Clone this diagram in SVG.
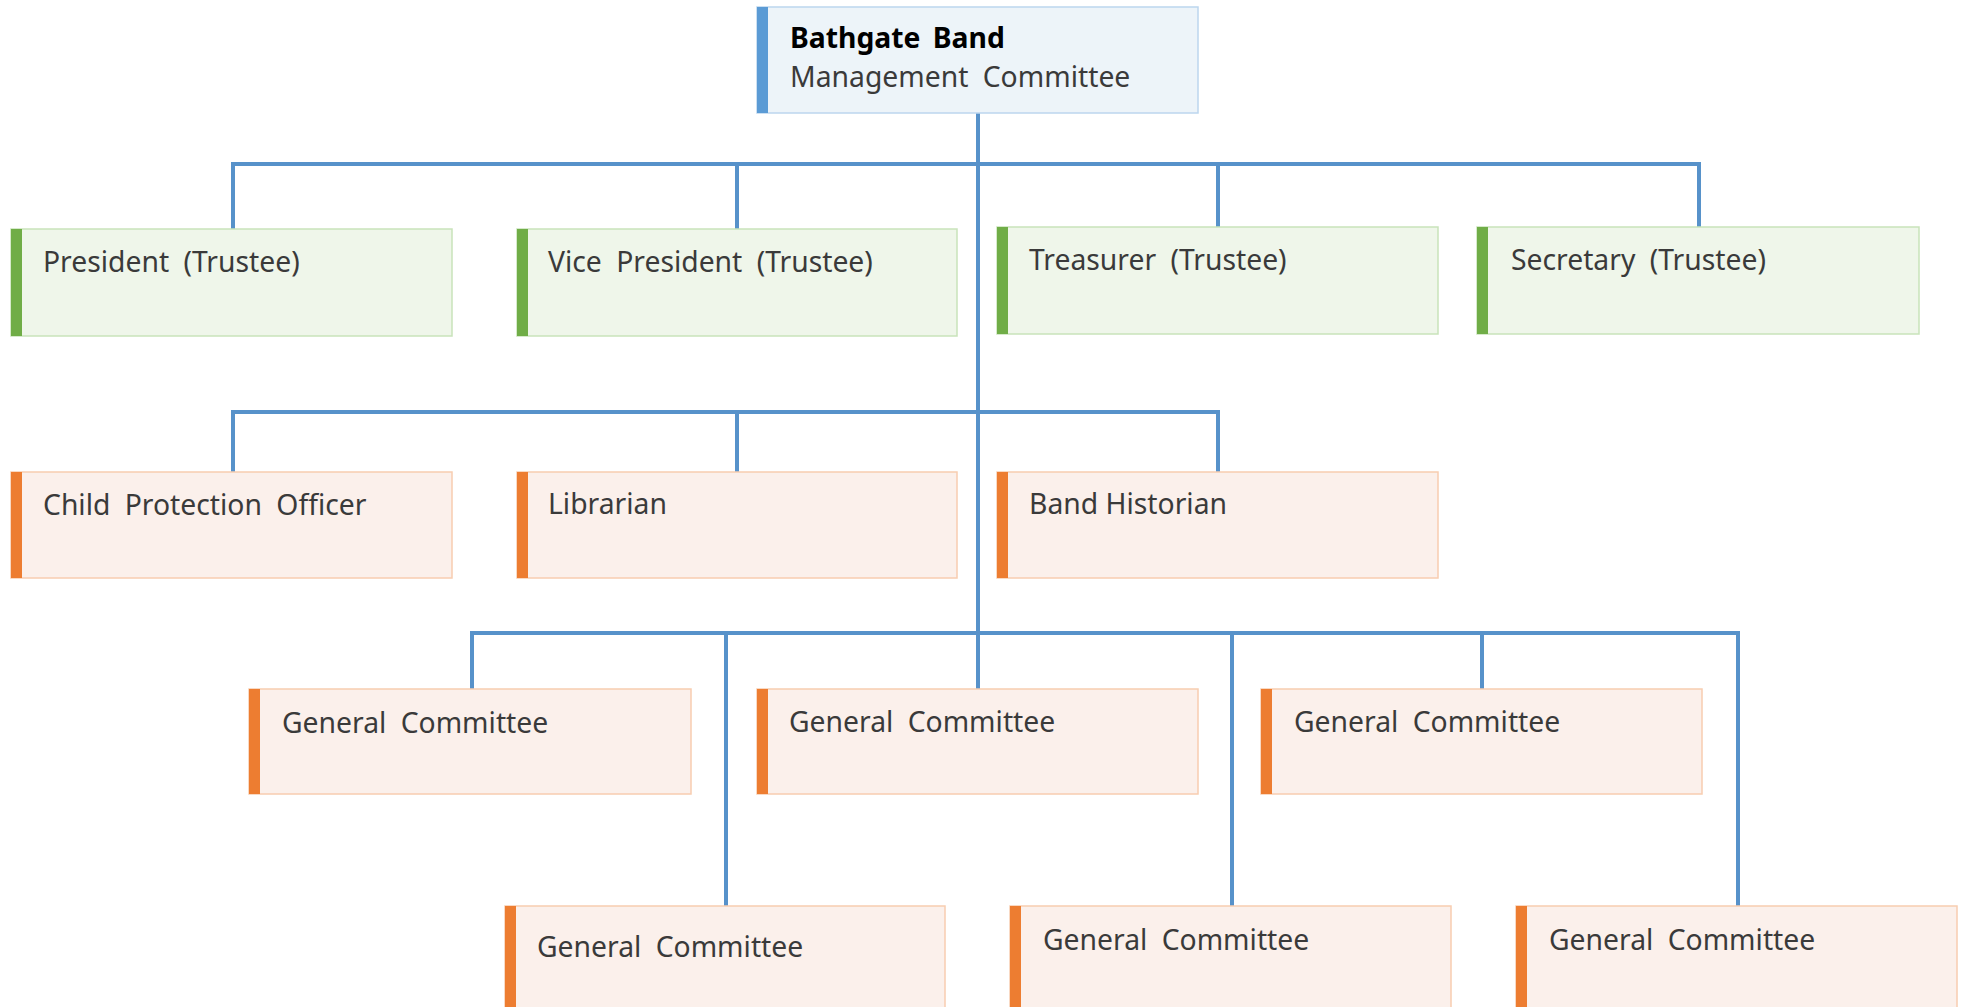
<svg xmlns="http://www.w3.org/2000/svg" width="1966" height="1007" viewBox="0 0 1966 1007">
<style>
.bg{fill:#ffffff}
.conn{fill:none;stroke:#5792CA;stroke-width:4;stroke-linecap:square}
.boxb{fill:#EDF4F9;stroke:#BCD6EE;stroke-width:1.5}
.boxg{fill:#EFF6EA;stroke:#C9E3BA;stroke-width:1.5}
.boxo{fill:#FBF0EB;stroke:#F8CDB0;stroke-width:1.5}
.accb{fill:#5B9BD5}
.accg{fill:#70AD47}
.acco{fill:#ED7D31}
.t{font-family:"Noto Sans","Open Sans","DejaVu Sans",sans-serif;font-size:28.3px;fill:#3A3A3A;word-spacing:7px}
.tb{font-family:"Noto Sans","Open Sans","DejaVu Sans",sans-serif;font-size:28.3px;font-weight:bold;fill:#000000;word-spacing:5px}
</style>
<rect class="bg" x="0" y="0" width="1966" height="1007"/>
<g id="connectors">
<path class="conn" d="M978 113 V689"/>
<path class="conn" d="M233 229 V164 H1699 V227"/>
<path class="conn" d="M737 164 V229"/>
<path class="conn" d="M1218 164 V227"/>
<path class="conn" d="M233 472 V412 H1218 V472"/>
<path class="conn" d="M737 412 V472"/>
<path class="conn" d="M472 689 V633 H1738 V906"/>
<path class="conn" d="M1482 633 V689"/>
<path class="conn" d="M726 633 V906"/>
<path class="conn" d="M1232 633 V906"/>
</g>
<g id="node-top">
<rect class="boxb" x="757" y="7" width="441" height="106"/>
<rect class="accb" x="757" y="7" width="11" height="106"/>
<text class="tb" x="790" y="48">Bathgate Band</text>
<text class="t" x="790" y="87">Management Committee</text>
</g>
<g id="node-president">
<rect class="boxg" x="11" y="229" width="441" height="107"/>
<rect class="accg" x="11" y="229" width="11" height="107"/>
<text class="t" x="43" y="272">President (Trustee)</text>
</g>
<g id="node-vicepresident">
<rect class="boxg" x="517" y="229" width="440" height="107"/>
<rect class="accg" x="517" y="229" width="11" height="107"/>
<text class="t" x="548" y="272">Vice President (Trustee)</text>
</g>
<g id="node-treasurer">
<rect class="boxg" x="997" y="227" width="441" height="107"/>
<rect class="accg" x="997" y="227" width="11" height="107"/>
<text class="t" x="1029" y="270">Treasurer (Trustee)</text>
</g>
<g id="node-secretary">
<rect class="boxg" x="1477" y="227" width="442" height="107"/>
<rect class="accg" x="1477" y="227" width="11" height="107"/>
<text class="t" x="1511" y="270">Secretary (Trustee)</text>
</g>
<g id="node-childprotection">
<rect class="boxo" x="11" y="472" width="441" height="106"/>
<rect class="acco" x="11" y="472" width="11" height="106"/>
<text class="t" x="43" y="515">Child Protection Officer</text>
</g>
<g id="node-librarian">
<rect class="boxo" x="517" y="472" width="440" height="106"/>
<rect class="acco" x="517" y="472" width="11" height="106"/>
<text class="t" x="548" y="514">Librarian</text>
</g>
<g id="node-historian">
<rect class="boxo" x="997" y="472" width="441" height="106"/>
<rect class="acco" x="997" y="472" width="11" height="106"/>
<text class="t" x="1029" y="514" style="word-spacing:0">Band Historian</text>
</g>
<g id="node-gc1">
<rect class="boxo" x="249" y="689" width="442" height="105"/>
<rect class="acco" x="249" y="689" width="11" height="105"/>
<text class="t" x="282" y="733">General Committee</text>
</g>
<g id="node-gc2">
<rect class="boxo" x="757" y="689" width="441" height="105"/>
<rect class="acco" x="757" y="689" width="11" height="105"/>
<text class="t" x="789" y="732">General Committee</text>
</g>
<g id="node-gc3">
<rect class="boxo" x="1261" y="689" width="441" height="105"/>
<rect class="acco" x="1261" y="689" width="11" height="105"/>
<text class="t" x="1294" y="732">General Committee</text>
</g>
<g id="node-gc4">
<rect class="boxo" x="505" y="906" width="440" height="107"/>
<rect class="acco" x="505" y="906" width="11" height="107"/>
<text class="t" x="537" y="957">General Committee</text>
</g>
<g id="node-gc5">
<rect class="boxo" x="1010" y="906" width="441" height="107"/>
<rect class="acco" x="1010" y="906" width="11" height="107"/>
<text class="t" x="1043" y="950">General Committee</text>
</g>
<g id="node-gc6">
<rect class="boxo" x="1516" y="906" width="441" height="107"/>
<rect class="acco" x="1516" y="906" width="11" height="107"/>
<text class="t" x="1549" y="950">General Committee</text>
</g>
</svg>
